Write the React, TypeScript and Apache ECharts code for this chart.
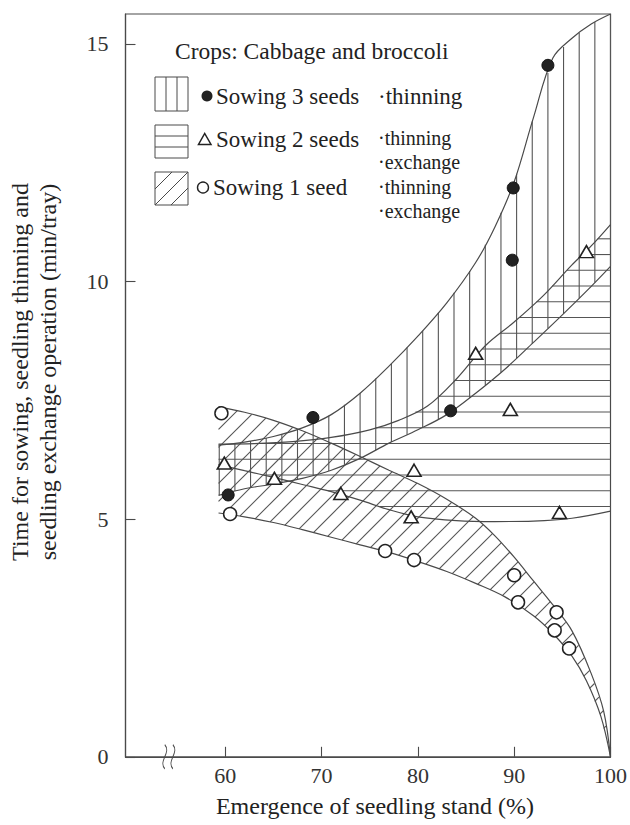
import React, { useEffect, useRef } from 'react';
import * as echarts from 'echarts';

// ---------- data ----------
const xTicks = [60, 70, 80, 90, 100];
const yTicks = [0, 5, 10, 15];

// Sowing 3 seeds (filled circles)
const sowing3 = [[60.3, 5.51], [69.1, 7.14], [83.4, 7.28], [89.8, 10.45], [89.9, 11.97], [93.5, 14.55]];
// Sowing 2 seeds (triangles)
const sowing2 = [[59.9, 6.18], [65.1, 5.86], [72.0, 5.54], [79.3, 5.05], [79.6, 6.03], [86.0, 8.49], [89.6, 7.31], [94.7, 5.14], [97.5, 10.63]];
// Sowing 1 seed (open circles)
const sowing1 = [[59.6, 7.23], [60.5, 5.11], [76.6, 4.33], [79.6, 4.14], [90.0, 3.82], [90.4, 3.25], [94.4, 3.04], [94.2, 2.66], [95.7, 2.28]];

// Band boundaries (x, y)
const band3Upper = [[59.3, 6.56], [62, 6.62], [65, 6.74], [68, 6.92], [71, 7.2], [74, 7.65], [77, 8.22], [80, 8.85], [83, 9.55], [86, 10.4], [88, 11.15], [90, 12.1], [92, 13.45], [94, 14.7], [96, 15.12], [98, 15.42], [100, 15.63]];
const band3Lower = [[59.3, 5.5], [62, 5.64], [65, 5.74], [68, 5.86], [71, 6.03], [74, 6.28], [77, 6.6], [80, 6.88], [83, 7.2], [86, 7.65], [89, 8.15], [92, 8.72], [95, 9.3], [98, 9.9], [100, 10.32]];
const band2Upper = [[59.3, 6.58], [63, 6.59], [67, 6.63], [71, 6.72], [75, 6.88], [78, 7.08], [81, 7.38], [84, 7.95], [87, 8.65], [90, 9.15], [93, 9.7], [96, 10.35], [98, 10.75], [100, 11.2]];
const band2Lower = [[59.3, 6.15], [62, 6.02], [65, 5.88], [68, 5.73], [71, 5.58], [74, 5.4], [77, 5.2], [80, 5.05], [84, 4.97], [88, 4.95], [92, 4.96], [96, 5.02], [100, 5.17]];
const band1Upper = [[59.3, 7.37], [62, 7.25], [65, 7.08], [68, 6.86], [71, 6.6], [74, 6.32], [77, 6.03], [80, 5.75], [83, 5.42], [86, 5.02], [88, 4.65], [90, 4.2], [92, 3.7], [94, 3.2], [96, 2.65], [98, 1.75], [99.3, 0.95], [100, 0]];
const band1Lower = [[59.3, 5.13], [62, 5.05], [65, 4.93], [68, 4.78], [71, 4.62], [74, 4.46], [77, 4.3], [80, 4.11], [83, 3.9], [86, 3.65], [89, 3.37], [92, 2.97], [94, 2.6], [96, 2.12], [97.5, 1.6], [99, 0.85], [100, 0]];

const breakMark = [[54.14, 0]];

// ---------- styles ----------
const FONT = 'Liberation Serif';
const INK = '#222';
const LINE = '#4a4a4a';
const HATCH = '#555';

type Kind = 'v' | 'h' | 'd';

function hatchSegments(poly: number[][], kind: Kind, step: number, phase: number) {
  const f = (p: number[]) => (kind === 'v' ? p[0] : kind === 'h' ? p[1] : p[0] + p[1]);
  const g = (p: number[]) => (kind === 'v' ? p[1] : p[0]);
  const vals = poly.map(f);
  const lo = Math.min(...vals);
  const hi = Math.max(...vals);
  const n = poly.length;
  const segs: number[][] = [];
  const k0 = Math.ceil((lo - phase) / step);
  for (let c = phase + k0 * step; c <= hi; c += step) {
    const hits: number[][] = [];
    for (let i = 0; i < n; i++) {
      const a = poly[i];
      const b = poly[(i + 1) % n];
      const fa = vals[i];
      const fb = vals[(i + 1) % n];
      if ((fa > c) !== (fb > c)) {
        const t = (c - fa) / (fb - fa);
        hits.push([a[0] + t * (b[0] - a[0]), a[1] + t * (b[1] - a[1])]);
      }
    }
    hits.sort((p, q) => g(p) - g(q));
    for (let k = 0; k + 1 < hits.length; k += 2) {
      segs.push([hits[k][0], hits[k][1], hits[k + 1][0], hits[k + 1][1]]);
    }
  }
  return segs;
}

function hatchSeries(name: string, upper: number[][], lower: number[][], kind: Kind) {
  return {
    type: 'custom',
    name,
    coordinateSystem: 'cartesian2d',
    silent: true,
    clip: false,
    z: 1,
    data: [upper[0]],
    encode: { x: 0, y: 1 },
    renderItem: (_params: any, api: any) => {
      const poly = [
        ...upper.map((p) => api.coord(p)),
        ...lower.slice().reverse().map((p) => api.coord(p)),
      ];
      const right = api.coord([100, 0]);
      let step = 18;
      let phase = 0;
      if (kind === 'v') {
        step = 15.65;
        phase = right[0];
      } else if (kind === 'h') {
        step = 15.75;
        phase = right[1] - 14;
      }
      const segs = hatchSegments(poly, kind, step, phase);
      return {
        type: 'group',
        children: segs.map((s) => ({
          type: 'line',
          shape: { x1: s[0], y1: s[1], x2: s[2], y2: s[3] },
          style: { stroke: HATCH, lineWidth: 1.1 },
        })),
      };
    },
  };
}

function curve(name: string, data: number[][]) {
  return {
    type: 'line',
    name,
    data,
    smooth: 0.35,
    showSymbol: false,
    silent: true,
    z: 3,
    lineStyle: { color: LINE, width: 1.2 },
  };
}

function txt(text: string, x: number, y: number, size = 23, lineHeight?: number) {
  return {
    type: 'text',
    x,
    y,
    z: 20,
    style: {
      text,
      fill: INK,
      fontSize: size,
      fontFamily: FONT,
      lineHeight: lineHeight ?? size,
      align: 'left',
      verticalAlign: 'middle',
      textAlign: 'left',
      textVerticalAlign: 'middle',
    },
  };
}

function seg(x1: number, y1: number, x2: number, y2: number) {
  return { type: 'line', z: 20, shape: { x1, y1, x2, y2 }, style: { stroke: LINE, lineWidth: 1 } };
}

function box(x: number, y: number, w: number, h: number) {
  return { type: 'rect', z: 19, shape: { x, y, width: w, height: h }, style: { fill: '#fff', stroke: LINE, lineWidth: 1 } };
}

export default function App() {
  const ref = useRef<HTMLDivElement>(null);

  useEffect(() => {
    if (!ref.current) return;
    const chart = echarts.init(ref.current, undefined, { renderer: 'svg' });

    const option: any = {
      animation: false,
      backgroundColor: '#fff',
      textStyle: { fontFamily: FONT },
      grid: {
        left: 125.5,
        right: 18.1,
        top: 14,
        bottom: 68.2,
        show: true,
        borderColor: LINE,
        borderWidth: 1.2,
        backgroundColor: 'transparent',
      },
      xAxis: {
        type: 'value',
        min: 49.64,
        max: 100,
        axisLine: { show: true, onZero: false, lineStyle: { color: LINE, width: 1.2 } },
        axisTick: { show: true, inside: true, length: 10, customValues: xTicks, lineStyle: { color: LINE, width: 1.1 } },
        axisLabel: { customValues: xTicks, fontSize: 22, fontFamily: FONT, color: '#333', margin: 8 },
        splitLine: { show: false },
      },
      yAxis: {
        type: 'value',
        min: 0,
        max: 15.63,
        axisLine: { show: true, onZero: false, lineStyle: { color: LINE, width: 1.2 } },
        axisTick: { show: true, inside: true, length: 10, customValues: yTicks, lineStyle: { color: LINE, width: 1.1 } },
        axisLabel: { customValues: yTicks, fontSize: 22, fontFamily: FONT, color: '#333', margin: 17 },
        splitLine: { show: false },
      },
      series: [
        hatchSeries('band1', band1Upper, band1Lower, 'd'),
        hatchSeries('band2', band2Upper, band2Lower, 'h'),
        hatchSeries('band3', band3Upper, band3Lower, 'v'),
        curve('b3u', band3Upper),
        curve('b3l', band3Lower),
        curve('b2u', band2Upper),
        curve('b2l', band2Lower),
        curve('b1u', band1Upper),
        curve('b1l', band1Lower),
        {
          type: 'scatter',
          name: 'Sowing 1 seed',
          data: sowing1,
          symbol: 'circle',
          symbolSize: 13,
          clip: false,
          z: 5,
          itemStyle: { color: '#fff', borderColor: INK, borderWidth: 1.5, opacity: 1 },
        },
        {
          type: 'scatter',
          name: 'Sowing 2 seeds',
          data: sowing2,
          symbol: 'triangle',
          symbolSize: [14, 12],
          clip: false,
          z: 5,
          itemStyle: { color: '#fff', borderColor: INK, borderWidth: 1.6, opacity: 1 },
        },
        {
          type: 'scatter',
          name: 'Sowing 3 seeds',
          data: sowing3,
          symbol: 'circle',
          symbolSize: 12,
          clip: false,
          z: 5,
          itemStyle: { color: '#222', borderColor: '#111', borderWidth: 1, opacity: 1 },
        },
        {
          type: 'scatter',
          name: 'break',
          data: breakMark,
          symbol: 'path://M3,0 C8,8 -2,16 3,24 M9,0 C14,8 4,16 9,24',
          symbolSize: [12, 24],
          clip: false,
          silent: true,
          z: 6,
          itemStyle: { color: 'rgba(0,0,0,0)', borderColor: LINE, borderWidth: 1.2, opacity: 1 },
        },
      ],
      graphic: [
        // axis titles
        {
          type: 'text',
          x: 34,
          y: 372,
          rotation: Math.PI / 2,
          z: 20,
          style: {
            text: 'Time for sowing, seedling thinning and\nseedling exchange operation (min/tray)',
            fill: INK,
            fontSize: 24,
            lineHeight: 28,
            fontFamily: FONT,
            align: 'center',
            verticalAlign: 'middle',
            textAlign: 'center',
            textVerticalAlign: 'middle',
          },
        },
        {
          type: 'text',
          x: 375,
          y: 806,
          z: 20,
          style: {
            text: 'Emergence of seedling stand (%)',
            fill: INK,
            fontSize: 24,
            fontFamily: FONT,
            align: 'center',
            verticalAlign: 'middle',
            textAlign: 'center',
            textVerticalAlign: 'middle',
          },
        },
        // legend
        txt('Crops: Cabbage and broccoli', 175, 51, 23.5),
        box(155, 77, 33, 34),
        seg(166, 77, 166, 111),
        seg(177, 77, 177, 111),
        { type: 'circle', z: 20, shape: { cx: 207, cy: 96, r: 5.5 }, style: { fill: '#222' } },
        txt('Sowing 3 seeds', 216, 96),
        txt('·thinning', 378, 96),

        box(155, 125, 33, 33),
        seg(155, 136, 188, 136),
        seg(155, 147, 188, 147),
        {
          type: 'polygon',
          z: 20,
          shape: { points: [[198.5, 144.5], [211, 144.5], [204.7, 133.5]] },
          style: { fill: '#fff', stroke: INK, lineWidth: 1.5 },
        },
        txt('Sowing 2 seeds', 216, 139),
        txt('·thinning', 378, 137.5, 20),
        txt('·exchange', 378, 161.5, 20),

        box(155, 172, 33, 33),
        seg(155, 189, 172, 172),
        seg(155, 205, 188, 172),
        seg(171, 205, 188, 188),
        { type: 'circle', z: 20, shape: { cx: 203, cy: 187.5, r: 5.5 }, style: { fill: '#fff', stroke: INK, lineWidth: 1.4 } },
        txt('Sowing 1 seed', 213, 187.5),
        txt('·thinning', 378, 186.5, 20),
        txt('·exchange', 378, 210.5, 20),
      ],
    };

    chart.setOption(option);
    return () => chart.dispose();
  }, []);

  return (
    <div
      ref={ref}
      style={{ position: 'fixed', left: 0, top: 0, width: 630, height: 825, background: '#fff' }}
    />
  );
}
